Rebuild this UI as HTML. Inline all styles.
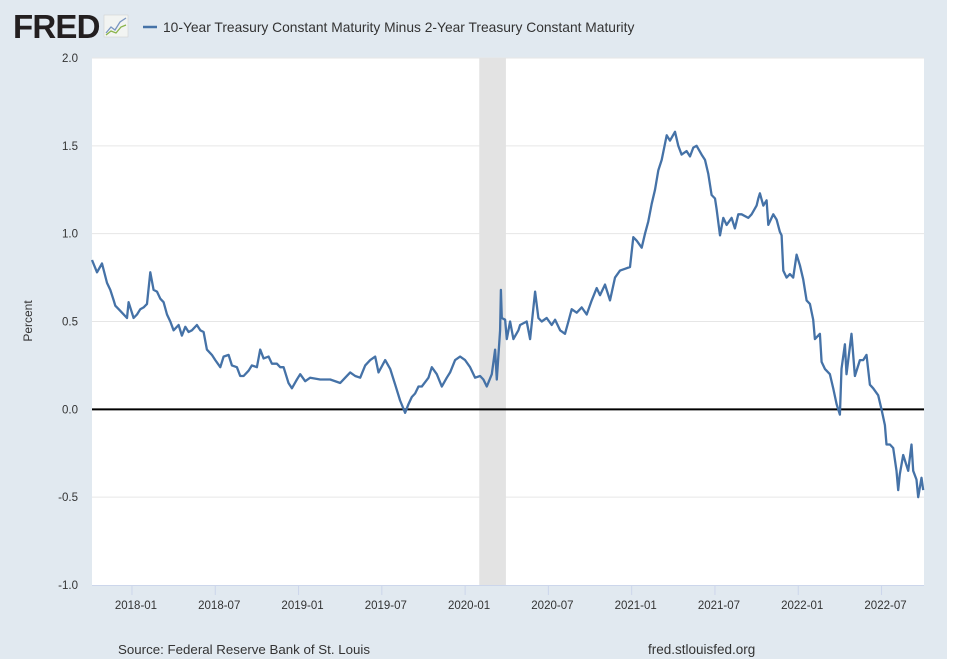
<!DOCTYPE html>
<html><head><meta charset="utf-8"><style>
body{margin:0;background:#fff;width:957px;height:667px;overflow:hidden;font-family:"Liberation Sans",sans-serif}
</style></head><body>
<svg id="chart" width="957" height="667" xmlns="http://www.w3.org/2000/svg">
<rect x="0" y="0" width="947" height="659" fill="#e1e9f0"/>
<text x="13" y="38" font-family="Liberation Sans, sans-serif" font-weight="bold" font-size="33" fill="#231f20" letter-spacing="-0.8">FRED</text>
<g>
<rect x="104" y="15" width="24" height="22" fill="#f2f4f2" stroke="#ccc" stroke-width="0.5"/>
<polyline points="106,33 111,27 115,30 120,22 126,18" fill="none" stroke="#7a96c2" stroke-width="1.3"/>
<polyline points="106,35 111,31 116,33 121,27 126,25" fill="none" stroke="#8ab44a" stroke-width="1.3"/>
</g>
<line x1="143" y1="27" x2="157" y2="27" stroke="#4572a7" stroke-width="2.5"/>
<text x="163" y="32" font-size="13.8" fill="#333">10-Year Treasury Constant Maturity Minus 2-Year Treasury Constant Maturity</text>
<rect x="92" y="58" width="832" height="527" fill="#fff"/>
<g id="grid"></g>
<g id="rec"></g>
<g id="yt"></g>
<g id="xt"></g>
<line x1="92" y1="585.5" x2="924" y2="585.5" stroke="#ccd6eb" stroke-width="1"/>
<g id="zero"></g>
<path id="series" fill="none" stroke="#4572a7" stroke-width="2.3" stroke-linejoin="round"/>
<text transform="translate(32,321) rotate(-90)" text-anchor="middle" font-size="12" fill="#333">Percent</text>
<text x="118" y="654" font-size="13.3" fill="#333">Source: Federal Reserve Bank of St. Louis</text>
<text x="648" y="654" font-size="13.5" fill="#333">fred.stlouisfed.org</text>
</svg>
<script>
const dates=[2017.76,2017.79,2017.82,2017.85,2017.87,2017.89,2017.90,2017.92,2017.94,2017.97,2017.98,2018.01,2018.03,2018.05,2018.07,2018.09,2018.11,2018.13,2018.15,2018.17,2018.19,2018.21,2018.23,2018.25,2018.28,2018.30,2018.32,2018.34,2018.36,2018.39,2018.41,2018.43,2018.45,2018.48,2018.50,2018.53,2018.55,2018.58,2018.60,2018.63,2018.65,2018.67,2018.70,2018.72,2018.75,2018.77,2018.79,2018.82,2018.84,2018.87,2018.89,2018.91,2018.94,2018.96,2018.99,2019.01,2019.04,2019.07,2019.13,2019.19,2019.25,2019.28,2019.31,2019.34,2019.37,2019.40,2019.43,2019.46,2019.48,2019.52,2019.55,2019.58,2019.61,2019.64,2019.66,2019.68,2019.70,2019.72,2019.74,2019.78,2019.80,2019.83,2019.86,2019.89,2019.91,2019.94,2019.97,2020.00,2020.03,2020.06,2020.09,2020.11,2020.13,2020.16,2020.18,2020.19,2020.21,2020.215,2020.22,2020.24,2020.25,2020.27,2020.29,2020.32,2020.33,2020.37,2020.39,2020.42,2020.44,2020.46,2020.49,2020.52,2020.54,2020.57,2020.60,2020.62,2020.64,2020.67,2020.70,2020.73,2020.76,2020.79,2020.81,2020.84,2020.87,2020.90,2020.93,2020.96,2020.99,2021.01,2021.03,2021.06,2021.08,2021.10,2021.12,2021.14,2021.16,2021.18,2021.21,2021.23,2021.26,2021.28,2021.30,2021.33,2021.35,2021.37,2021.39,2021.42,2021.44,2021.46,2021.48,2021.50,2021.51,2021.53,2021.55,2021.57,2021.60,2021.62,2021.64,2021.66,2021.70,2021.72,2021.75,2021.76,2021.77,2021.79,2021.81,2021.82,2021.85,2021.87,2021.89,2021.90,2021.91,2021.93,2021.95,2021.97,2021.99,2022.01,2022.03,2022.05,2022.07,2022.09,2022.10,2022.13,2022.14,2022.16,2022.19,2022.21,2022.23,2022.25,2022.26,2022.28,2022.29,2022.32,2022.34,2022.37,2022.39,2022.41,2022.43,2022.45,2022.48,2022.50,2022.52,2022.53,2022.55,2022.57,2022.59,2022.60,2022.61,2022.63,2022.66,2022.68,2022.69,2022.71,2022.72,2022.74,2022.75];
const values=[0.85,0.78,0.83,0.72,0.68,0.62,0.59,0.57,0.55,0.52,0.61,0.52,0.54,0.57,0.58,0.60,0.78,0.68,0.67,0.63,0.61,0.54,0.50,0.45,0.48,0.42,0.47,0.44,0.45,0.48,0.45,0.44,0.34,0.31,0.28,0.24,0.30,0.31,0.25,0.24,0.19,0.19,0.22,0.25,0.24,0.34,0.29,0.30,0.26,0.26,0.24,0.24,0.15,0.12,0.17,0.20,0.16,0.18,0.17,0.17,0.15,0.18,0.21,0.19,0.18,0.25,0.28,0.30,0.21,0.28,0.23,0.14,0.05,-0.02,0.03,0.07,0.09,0.13,0.13,0.18,0.24,0.20,0.13,0.18,0.21,0.28,0.30,0.28,0.24,0.18,0.19,0.17,0.13,0.20,0.34,0.17,0.45,0.68,0.52,0.51,0.40,0.50,0.40,0.45,0.48,0.50,0.40,0.67,0.52,0.50,0.52,0.48,0.51,0.45,0.43,0.50,0.57,0.55,0.58,0.54,0.62,0.69,0.65,0.71,0.62,0.75,0.79,0.80,0.81,0.98,0.96,0.92,1.00,1.07,1.17,1.25,1.36,1.42,1.56,1.53,1.58,1.50,1.45,1.47,1.44,1.49,1.50,1.45,1.42,1.34,1.22,1.20,1.14,0.99,1.09,1.05,1.09,1.03,1.11,1.11,1.09,1.11,1.16,1.20,1.23,1.16,1.19,1.05,1.11,1.08,1.01,0.99,0.79,0.75,0.77,0.75,0.88,0.82,0.74,0.62,0.60,0.51,0.40,0.43,0.27,0.23,0.20,0.12,0.03,-0.03,0.23,0.37,0.20,0.43,0.19,0.28,0.28,0.31,0.14,0.12,0.08,0.00,-0.09,-0.20,-0.20,-0.22,-0.35,-0.46,-0.37,-0.26,-0.35,-0.20,-0.35,-0.40,-0.50,-0.39,-0.46];
const yTicks=[-1.0,-0.5,0.0,0.5,1.0,1.5,2.0];
const xTickLabels=["2018-01","2018-07","2019-01","2019-07","2020-01","2020-07","2021-01","2021-07","2022-01","2022-07"];
const recession=[2020.085,2020.245];
const X0=92,X1=924,Y0=58,Y1=585,D0=2017.76,D1=2022.755,V0=-1,V1=2;
const xs=d=>X0+(d-D0)/(D1-D0)*(X1-X0);
const ys=v=>Y1-(v-V0)/(V1-V0)*(Y1-Y0);
const NS="http://www.w3.org/2000/svg";
function mk(tag,attrs,parent){const e=document.createElementNS(NS,tag);for(const k in attrs)e.setAttribute(k,attrs[k]);document.getElementById(parent).appendChild(e);return e;}
yTicks.forEach(v=>{
  if(v!==V0&&v!==0){const g=mk('line',{x1:X0,x2:X1,y1:ys(v),y2:ys(v),stroke:'#e6e6e6','stroke-width':1},'grid');
  
  }
  const t=mk('text',{x:78,y:ys(v)+4,'text-anchor':'end','font-size':11.5,fill:'#333'},'yt');
  t.textContent=v.toFixed(1);
  
  
});
const r=mk('rect',{x:xs(recession[0]),y:Y0,width:xs(recession[1])-xs(recession[0]),height:Y1-Y0,fill:'#e3e3e3'},'rec');


xTickLabels.forEach(s=>{
  const [y,m]=s.split('-').map(Number);const d=y+(m-1)/12;const x=xs(d);
  const l=mk('line',{x1:x,x2:x,y1:Y1,y2:Y1+10,stroke:'#ccd6eb'},'xt');
  
  
  const t=mk('text',{x:x+4,y:Y1+24,'text-anchor':'middle','font-size':11.5,fill:'#333'},'xt');
  t.textContent=s;
  
  
});
const z=mk('line',{x1:X0,x2:X1,y1:ys(0),y2:ys(0),stroke:'#000','stroke-width':2},'zero');


document.getElementById('series').setAttribute('d',dates.map((d,i)=>(i?'L':'M')+xs(d).toFixed(1)+','+ys(values[i]).toFixed(1)).join(''));
</script>
</body></html>
